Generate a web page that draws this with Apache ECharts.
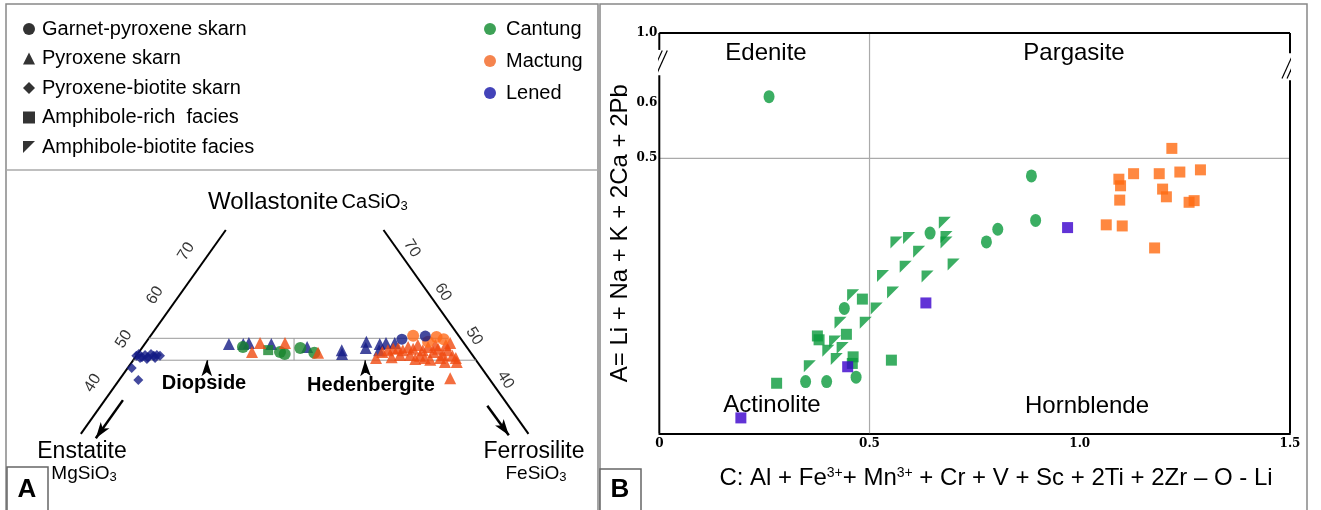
<!DOCTYPE html>
<html><head><meta charset="utf-8">
<script src="https://cdn.jsdelivr.net/npm/echarts@6/dist/echarts.min.js"></script>
<style>html,body{margin:0;padding:0;background:#fff}#c{width:1321px;height:510px}</style>
</head><body><div id="c"></div>
<script>
// ================= DATA =================
// Panel A: pyroxene compositions as [Wo, Fs] in mol% (En = 100 - Wo - Fs)
const ternTicks = [40, 50, 60, 70];
const lenedDiamondA = [[46.0,0.0],[46.4,0.2],[45.7,1.05],[46.2,1.3],[45.7,2.0],[46.4,2.15],[46.0,2.8],[46.2,3.2],[46.0,3.8],[45.5,0.85],[45.3,2.05],[45.5,3.25],[43.2,0.66],[40.5,3.07]];
const lenedTriangleA = [[48.7,13.5],[48.7,15.8],[48.9,16.6],[48.7,20.3],[48.0,26.4],[47.3,32.3],[46.4,32.8],[49.2,35.3],[47.8,35.9],[47.3,38.3],[48.7,37.7],[48.9,38.6],[48.9,40.0]];
const lenedCircleA = [[49.8,40.7],[50.5,44.1]];
const cantungCircleA = [[48.0,16.1],[46.9,22.6],[46.4,23.6],[47.8,25.4],[46.7,28.2]];
const cantungSquareA = [[47.3,20.5]];
const mactungTriangleA = [[46.9,18.1],[48.9,18.4],[48.9,22.4],[46.7,28.8],[45.5,38.7],[40.9,52.9],
  [46.9,39.0],[47.3,39.7],[47.6,40.4],[47.8,41.1],[47.3,42.1],[48.0,42.6],[47.6,43.6],[48.5,43.9],[47.3,45.3],[48.0,45.8],
  [46.9,47.2],[47.6,47.6],[46.2,49.1],[47.3,49.3],[46.0,50.7],[45.5,51.5],[48.5,48.4],[45.5,49.0],[45.1,47.6],[46.0,45.5],
  [46.2,43.8],[45.5,46.5],[48.5,46.7],[48.9,48.9],[45.3,45.1],[44.6,50.2],[44.6,52.1],[45.7,41.1],[46.2,42.2]];
const mactungCircleA = [[50.6,42.1],[50.3,46.0],[49.8,47.4],[49.2,45.2]];

// Panel B: amphibole classification, [C, A]
const xTicksB = [0, 0.5, 1.0, 1.5];
const xTickLabelsB = ['0', '0.5', '1.0', '1.5'];
const yTickLabelsB = ['0.5', '0.6', '1.0'];
const cantungCircleB = [[0.261,0.612],[0.644,0.364],[0.440,0.227],[0.348,0.094],[0.398,0.094],[0.468,0.102],[0.778,0.348],[0.805,0.371],[0.895,0.387],[0.885,0.468]];
const cantungSquareB = [[0.279,0.091],[0.483,0.244],[0.376,0.177],[0.380,0.170],[0.445,0.180],[0.461,0.139],[0.459,0.127],[0.552,0.133]];
const cantungFlagB = [[0.679,0.383],[0.564,0.347],[0.594,0.355],[0.683,0.357],[0.683,0.347],[0.618,0.330],[0.700,0.307],[0.586,0.303],[0.638,0.285],[0.532,0.286],[0.556,0.256],[0.461,0.251],[0.517,0.227],[0.431,0.201],[0.491,0.201],[0.418,0.167],[0.402,0.150],[0.436,0.155],[0.422,0.135],[0.358,0.122]];
const lenedSquareB = [[0.194,0.028],[0.448,0.121],[0.634,0.237],[0.971,0.374]];
const mactungSquareB = [[1.219,0.518],[1.093,0.462],[1.097,0.450],[1.128,0.472],[1.189,0.472],[1.238,0.475],[1.287,0.479],[1.197,0.444],[1.206,0.430],[1.095,0.424],[1.260,0.420],[1.272,0.423],[1.063,0.379],[1.101,0.377],[1.178,0.337]];

const shapeNames = ['Garnet-pyroxene skarn','Pyroxene skarn','Pyroxene-biotite skarn','Amphibole-rich  facies','Amphibole-biotite facies'];
const siteNames = ['Cantung','Mactung','Lened'];

// ================= STYLE =================
const FLAG = 'path://M0,0L10,0L0,10Z';
const shapeSymbols = ['circle','triangle','diamond','rect',FLAG];
const siteColors = ['#0d8a2c','#f26522','#1414a8'];
const GA = '#16852c', OA = '#ff6a1a', RA = '#f04a10', BA = '#141c86';
const GB = '#0a9a3c', OB = '#ff6a10', BB = '#3a00cc';
const SANS = 'Liberation Sans, Arial, sans-serif';
const TICKF = 'DejaVu Serif, serif';
const YTOP = 0.7278; // top of broken axis (labelled 1.0)

const T = (p) => [p[1] + p[0] / 2, p[0]]; // ternary [Wo,Fs] -> cartesian [x,y]

const chart = echarts.init(document.getElementById('c'), null, {renderer: 'canvas'});

function scatterA(name, data, symbol, color, size) {
  return {type: 'scatter', name, xAxisIndex: 0, yAxisIndex: 0, data: data.map(T), symbol, symbolSize: size,
    itemStyle: {color}, silent: true, z: 5};
}
function scatterB(name, data, symbol, color, size) {
  return {type: 'scatter', name, xAxisIndex: 1, yAxisIndex: 1, data, symbol, symbolSize: size,
    itemStyle: {color}, silent: true, z: 5};
}
function lineA(pts, color, width) {
  return {type: 'line', xAxisIndex: 0, yAxisIndex: 0, data: pts.map(T), symbol: 'none', silent: true,
    lineStyle: {color, width}, clip: false, z: 3};
}
function lineB(pts, color, width) {
  return {type: 'line', xAxisIndex: 1, yAxisIndex: 1, data: pts, symbol: 'none', silent: true,
    lineStyle: {color, width}, clip: false, z: 3};
}

const series = [];
// ---- Panel A frame of quadrilateral ----
series.push(lineA([[28.2,0],[74.7,0]], '#000', 2));            // Fs = 0 side
series.push(lineA([[28.2,71.8],[74.7,25.3]], '#000', 2));      // En = 0 side
series.push(lineA([[50,0],[50,48]], '#999', 1));               // Wo 50
series.push(lineA([[45,0],[45,55]], '#999', 1));               // Wo 45
series.push(lineA([[50,23.3],[45,25.8]], '#999', 1));          // Di / Hd boundary
// arrows & pointers
series.push({type: 'line', xAxisIndex: 0, yAxisIndex: 0, data: [], silent: true,
  markLine: {silent: true, symbol: ['none','arrow'], label: {show: false}, animation: false,
    data: [
      [{coord: T([35.9,2.9]), lineStyle: {width: 2.5, color: '#000', type: 'solid'}, symbolSize: 12}, {coord: T([27.2,2.9])}],
      [{coord: T([34.6,62.0]), lineStyle: {width: 2.5, color: '#000', type: 'solid'}, symbolSize: 12}, {coord: T([27.9,68.8])}],
      [{coord: T([42.4,13.1]), lineStyle: {width: 1.2, color: '#000', type: 'solid'}, symbolSize: 5}, {coord: T([45,11.8])}],
      [{coord: T([42.1,38.7]), lineStyle: {width: 1.2, color: '#000', type: 'solid'}, symbolSize: 5}, {coord: T([45,37.2])}]
    ]}});
// ternary tick labels (placed just outside each side)
series.push({type: 'scatter', xAxisIndex: 0, yAxisIndex: 0, silent: true, symbolSize: 0,
  data: ternTicks.map(t => ({value: [t / 2 - 4.0, t - 0.2], label: {formatter: String(t)}})),
  label: {show: true, position: 'inside', rotate: 58, fontSize: 16, fontFamily: SANS, color: '#000'}});
series.push({type: 'scatter', xAxisIndex: 0, yAxisIndex: 0, silent: true, symbolSize: 0,
  data: ternTicks.map(t => ({value: [100 - t / 2 + 2.2, t + 0.5], label: {formatter: String(t)}})),
  label: {show: true, position: 'inside', rotate: -58, fontSize: 16, fontFamily: SANS, color: '#000'}});
// points
series.push(scatterA('Lened-pbs', lenedDiamondA, 'diamond', BA, 10));
series.push(scatterA('Lened-ps', lenedTriangleA, 'triangle', BA, 12));
series.push(scatterA('Cantung-gps', cantungCircleA, 'circle', GA, 12));
series.push(scatterA('Cantung-ar', cantungSquareA, 'rect', GA, 10));
series.push(scatterA('Mactung-ps', mactungTriangleA, 'triangle', RA, 12));
series.push(scatterA('Mactung-gps', mactungCircleA, 'circle', OA, 12));
series.push(scatterA('Lened-gps', lenedCircleA, 'circle', BA, 11));
// legend dummy series
shapeNames.forEach((n, i) => series.push({type: 'scatter', name: n, xAxisIndex: 0, yAxisIndex: 0, data: [], symbol: shapeSymbols[i], itemStyle: {color: '#000'}}));
siteNames.forEach((n, i) => series.push({type: 'scatter', name: n, xAxisIndex: 0, yAxisIndex: 0, data: [], symbol: 'circle', itemStyle: {color: siteColors[i]}}));

// ---- Panel B ----
series.push(lineB([[0.5,0],[0.5,YTOP]], '#aaa', 1.2));
series.push(lineB([[0,0.5],[1.5,0.5]], '#aaa', 1.2));
series.push(lineB([[0,YTOP],[1.5,YTOP]], '#000', 2));
series.push(lineB([[0,0],[0,0.651]], '#000', 2));
series.push(lineB([[0,0.697],[0,YTOP]], '#000', 2));
series.push(lineB([[1.5,0],[1.5,0.642]], '#000', 2));
series.push(lineB([[1.5,0.691],[1.5,YTOP]], '#000', 2));
[[0, 0.674], [1.5, 0.667]].forEach(([x, c]) => {
  series.push(lineB([[x - 0.019, c - 0.022], [x + 0.007, c + 0.022]], '#000', 1.2));
  series.push(lineB([[x - 0.007, c - 0.022], [x + 0.019, c + 0.022]], '#000', 1.2));
});
series.push(scatterB('Cantung-amph-rich', cantungSquareB, 'rect', GB, 11));
series.push(scatterB('Cantung-amph-bt', cantungFlagB, FLAG, GB, 12));
series.push(scatterB('Cantung-gps', cantungCircleB, 'circle', GB, [11, 13]));
series.push(scatterB('Mactung-amph-rich', mactungSquareB, 'rect', OB, 11));
series.push(scatterB('Lened-amph-rich', lenedSquareB, 'rect', BB, 11));

const option = {
  animation: false,
  backgroundColor: '#fff',
  grid: [
    {left: 5.42, top: 206.8, width: 610.93, height: 263.0},
    {left: 659.3, top: 33, width: 630.7, height: 400.3}
  ],
  xAxis: [
    {gridIndex: 0, type: 'value', min: 2, max: 100, show: false},
    {gridIndex: 1, type: 'value', min: 0, max: 1.5, interval: 0.5,
      axisLine: {show: true, onZero: false, lineStyle: {color: '#000', width: 2}},
      axisTick: {show: false}, splitLine: {show: false},
      axisLabel: {margin: 5, fontSize: 12, fontWeight: 'bold', fontFamily: TICKF, color: '#000',
        formatter: v => { const i = xTicksB.findIndex(t => Math.abs(t - v) < 1e-9); return i >= 0 ? xTickLabelsB[i] : ''; }}}
  ],
  yAxis: [
    {gridIndex: 0, type: 'value', min: 20, max: 80, show: false},
    {gridIndex: 1, type: 'value', min: 0, max: YTOP,
      axisLine: {show: false}, axisTick: {show: false}, splitLine: {show: false},
      axisLabel: {show: true, margin: 2, fontSize: 12, fontWeight: 'bold', fontFamily: TICKF, color: '#000',
        customValues: [0.5, 0.6, YTOP],
        formatter: v => v > 0.7 ? yTickLabelsB[2] : (Math.abs(v - 0.6) < 1e-6 ? yTickLabelsB[1] : yTickLabelsB[0])},
      name: 'A= Li + Na + K + 2Ca + 2Pb', nameLocation: 'middle', nameRotate: 90, nameGap: 22,
      nameTextStyle: {fontSize: 24, fontFamily: SANS, color: '#000'}}
  ],
  legend: [
    {orient: 'vertical', left: 18, top: 14, itemWidth: 12, itemHeight: 12, itemGap: 9.5, selectedMode: false,
      data: shapeNames, textStyle: {fontSize: 20, fontFamily: SANS, color: '#000', padding: [0, 0, 0, 2]}},
    {orient: 'vertical', left: 479, top: 14, itemWidth: 12, itemHeight: 12, itemGap: 12, selectedMode: false,
      data: siteNames, textStyle: {fontSize: 20, fontFamily: SANS, color: '#000', padding: [0, 0, 0, 5]}}
  ],
  graphic: [
    {type: 'rect', shape: {x: 6, y: 4, width: 592, height: 520}, style: {fill: 'none', stroke: '#888', lineWidth: 1.5}, silent: true},
    {type: 'line', shape: {x1: 6, y1: 170, x2: 598, y2: 170}, style: {stroke: '#aaa', lineWidth: 1.5}, silent: true},
    {type: 'rect', shape: {x: 600, y: 4, width: 707, height: 520}, style: {fill: 'none', stroke: '#888', lineWidth: 1.5}, silent: true},
    {type: 'rect', shape: {x: 7, y: 467, width: 41, height: 50}, style: {fill: '#fff', stroke: '#666', lineWidth: 1.5}, silent: true},
    {type: 'rect', shape: {x: 600, y: 469, width: 41, height: 50}, style: {fill: '#fff', stroke: '#666', lineWidth: 1.5}, silent: true},
    {type: 'text', x: 27, y: 490, style: {text: 'A', fontSize: 26, fontWeight: 'bold', fontFamily: SANS, fill: '#000', align: 'center', verticalAlign: 'middle'}, silent: true},
    {type: 'text', x: 620, y: 490, style: {text: 'B', fontSize: 26, fontWeight: 'bold', fontFamily: SANS, fill: '#000', align: 'center', verticalAlign: 'middle'}, silent: true},
    // panel A labels
    {type: 'text', x: 208, y: 202, silent: true, style: {text: '{a|Wollastonite} {b|CaSiO}{s|3}', verticalAlign: 'middle', fill: '#000',
      rich: {a: {fontSize: 24, fontFamily: SANS}, b: {fontSize: 20, fontFamily: SANS}, s: {fontSize: 13, fontFamily: SANS, padding: [8, 0, 0, 0]}}}},
    {type: 'text', x: 82, y: 452, silent: true, style: {text: 'Enstatite', fontSize: 23, fontFamily: SANS, fill: '#000', align: 'center', verticalAlign: 'middle'}},
    {type: 'text', x: 84, y: 474, silent: true, style: {text: '{b|MgSiO}{s|3}', align: 'center', verticalAlign: 'middle', fill: '#000',
      rich: {b: {fontSize: 19, fontFamily: SANS}, s: {fontSize: 13, fontFamily: SANS, padding: [7, 0, 0, 0]}}}},
    {type: 'text', x: 534, y: 452, silent: true, style: {text: 'Ferrosilite', fontSize: 23, fontFamily: SANS, fill: '#000', align: 'center', verticalAlign: 'middle'}},
    {type: 'text', x: 536, y: 474, silent: true, style: {text: '{b|FeSiO}{s|3}', align: 'center', verticalAlign: 'middle', fill: '#000',
      rich: {b: {fontSize: 19, fontFamily: SANS}, s: {fontSize: 13, fontFamily: SANS, padding: [7, 0, 0, 0]}}}},
    {type: 'text', x: 204, y: 383, silent: true, style: {text: 'Diopside', fontSize: 20, fontWeight: 'bold', fontFamily: SANS, fill: '#000', align: 'center', verticalAlign: 'middle'}},
    {type: 'text', x: 371, y: 385, silent: true, style: {text: 'Hedenbergite', fontSize: 20, fontWeight: 'bold', fontFamily: SANS, fill: '#000', align: 'center', verticalAlign: 'middle'}},
    // panel B labels
    {type: 'text', x: 766, y: 53, silent: true, style: {text: 'Edenite', fontSize: 24, fontFamily: SANS, fill: '#000', align: 'center', verticalAlign: 'middle'}},
    {type: 'text', x: 1074, y: 53, silent: true, style: {text: 'Pargasite', fontSize: 24, fontFamily: SANS, fill: '#000', align: 'center', verticalAlign: 'middle'}},
    {type: 'text', x: 772, y: 405, silent: true, style: {text: 'Actinolite', fontSize: 24, fontFamily: SANS, fill: '#000', align: 'center', verticalAlign: 'middle'}, z: 10},
    {type: 'text', x: 1087, y: 406, silent: true, style: {text: 'Hornblende', fontSize: 24, fontFamily: SANS, fill: '#000', align: 'center', verticalAlign: 'middle'}},
    {type: 'text', x: 996, y: 478, silent: true, style: {
      text: '{n|C: Al + Fe}{p|3+}{n|+ Mn}{p|3+}{n| + Cr + V + Sc + 2Ti + 2Zr – O - Li}', align: 'center', verticalAlign: 'middle', fill: '#000',
      rich: {n: {fontSize: 24, fontFamily: SANS}, p: {fontSize: 14, fontFamily: SANS, verticalAlign: 'top'}}}}
  ],
  series
};
chart.setOption(option);
</script>
</body></html>
